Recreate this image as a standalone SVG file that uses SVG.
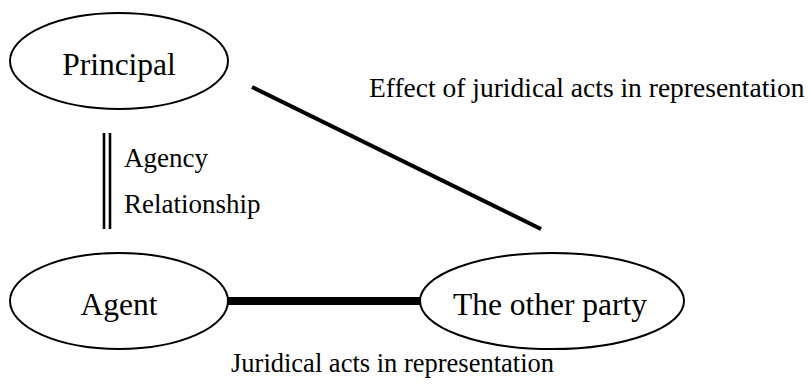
<svg xmlns="http://www.w3.org/2000/svg" width="809" height="389" viewBox="0 0 809 389">
<style>
.node{fill:#fff;stroke:#000;stroke-width:2}
.big{font-family:"Liberation Serif","Times New Roman",serif;font-size:31.5px;fill:#000;text-anchor:middle}
.small{font-family:"Liberation Serif","Times New Roman",serif;font-size:27px;fill:#000}
.conn{stroke:#000;fill:none}
</style>
<rect width="809" height="389" fill="#fff"/>
<g id="connectors">
<line class="conn" x1="252" y1="87" x2="541" y2="229" stroke-width="4"/>
<line class="conn" x1="228" y1="301" x2="420" y2="301" stroke-width="8"/>
<line class="conn" x1="104" y1="133" x2="104" y2="229" stroke-width="2.6"/>
<line class="conn" x1="110" y1="133" x2="110" y2="229" stroke-width="2.6"/>
</g>
<g id="principal">
<ellipse class="node" cx="119" cy="61" rx="109" ry="48"/>
<text class="big" x="119" y="75">Principal</text>
</g>
<g id="agent">
<ellipse class="node" cx="119" cy="301" rx="109" ry="48"/>
<text class="big" x="119" y="315">Agent</text>
</g>
<g id="other-party">
<ellipse class="node" cx="552" cy="301" rx="132" ry="48"/>
<text class="big" x="550" y="315">The other party</text>
</g>
<g id="labels">
<text class="small" x="124" y="167">Agency</text>
<text class="small" x="124" y="213">Relationship</text>
<text class="small" x="369" y="97" style="font-size:27.5px">Effect of juridical acts in representation</text>
<text class="small" x="231" y="372" style="font-size:26.5px">Juridical acts in representation</text>
</g>
</svg>
